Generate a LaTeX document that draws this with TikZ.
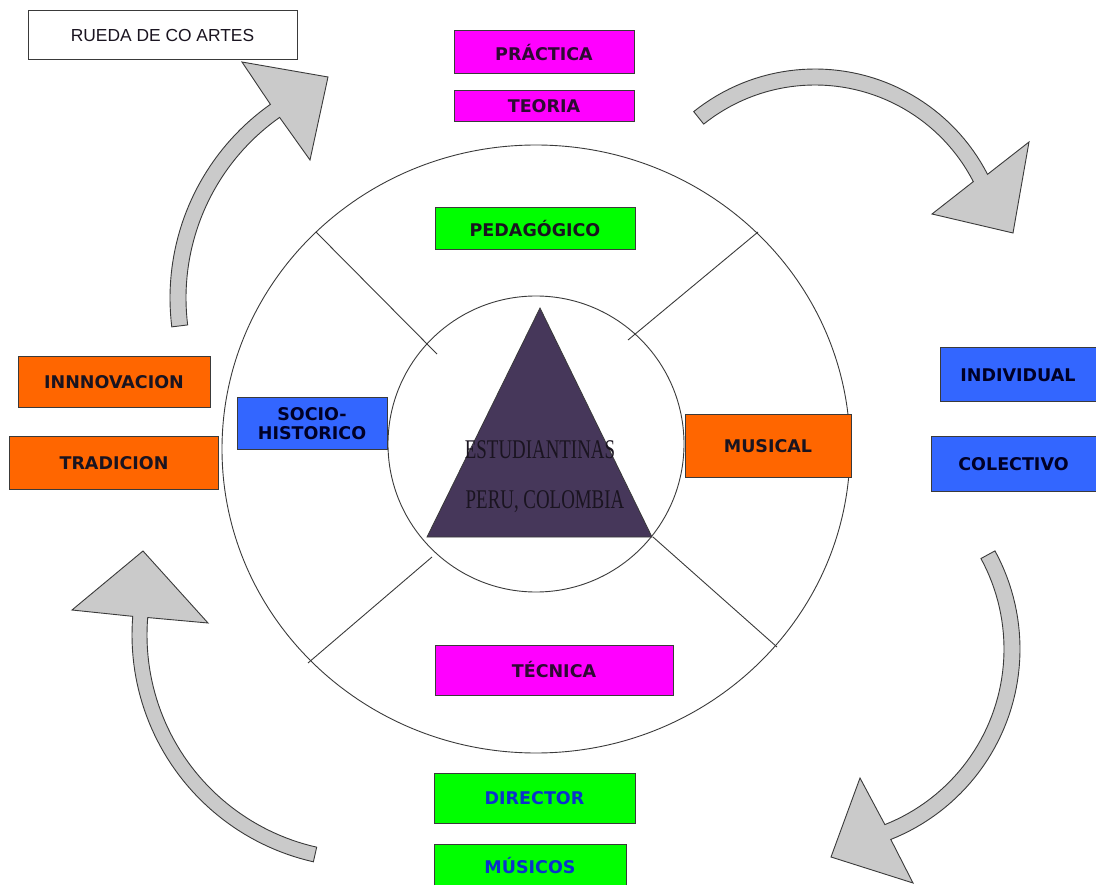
\documentclass[tikz,border=0pt]{standalone}
\usepackage{fontspec}
\usepackage{tikz}
\usetikzlibrary{positioning}
\newfontfamily\labelfont{DejaVu Sans}
\newfontfamily\titlefont{Liberation Sans}
\newfontfamily\centrefont[FakeStretch=0.7]{Liberation Serif}
\definecolor{rosa}{HTML}{FF00FF}
\definecolor{verde}{HTML}{00FF00}
\definecolor{azul}{HTML}{3366FF}
\definecolor{naranja}{HTML}{FF6600}
\definecolor{morado}{HTML}{46375A}
\definecolor{gris}{HTML}{CACACA}
\definecolor{trazo}{HTML}{3A3A3A}
\definecolor{letra}{HTML}{1A1420}
\definecolor{letrarosa}{HTML}{2E0A33}
\definecolor{letraazul}{HTML}{0A33CC}

\begin{document}
\begin{tikzpicture}[x=1pt,y=-1pt,
  box/.style={draw=trazo,line width=1pt,inner sep=0pt,align=center,text=letra,
    font=\labelfont\bfseries\fontsize{17.5}{19}\selectfont},
  magbox/.style={box,fill=rosa,text=letrarosa},
  greenbox/.style={box,fill=verde},
  bluebox/.style={box,fill=azul,text=black!85!blue},
  orangebox/.style={box,fill=naranja},
  ring/.style={draw=trazo,line width=0.9pt},
  bigarrow/.style={fill=gris,draw=trazo,line width=0.9pt,line join=miter}]
\useasboundingbox (0,0) rectangle (1096,885);

% wheel
\draw[ring] (536,449) ellipse [x radius=314,y radius=304];
\draw[ring] (536,444) circle [radius=148];
\draw[ring] (316,232) -- (437,354);
\draw[ring] (758,232) -- (628,340);
\draw[ring] (308,663) -- (432,557);
\draw[ring] (777,647) -- (653,537);

% centre
\filldraw[fill=morado,draw=trazo,line width=0.8pt] (540,308) -- (427,537) -- (652,537) -- cycle;
\node[anchor=base,font=\centrefont\fontsize{27}{27}\selectfont,text=letra] (estud) at (540,458) {ESTUDIANTINAS};
\node[anchor=base,font=\centrefont\fontsize{27}{27}\selectfont,text=letra] (paises) at (545,508) {PERU, COLOMBIA};

% labels
\node[box,fill=white,font=\titlefont\fontsize{17.4}{17}\selectfont,minimum width=269pt,minimum height=49pt] (rueda) at (162.5,35.5) {RUEDA DE CO ARTES};
\node[magbox,minimum width=180pt,minimum height=43pt] (practica) at (544,52.5) {PRÁCTICA};
\node[magbox,minimum width=180pt,minimum height=31pt,below=16pt of practica] (teoria) {TEORIA};
\node[greenbox,minimum width=200pt,minimum height=42pt] (pedagogico) at (535,229) {PEDAGÓGICO};
\node[bluebox,minimum width=150pt,minimum height=52pt] (socio) at (312,424) {SOCIO-\\HISTORICO};
\node[orangebox,minimum width=192pt,minimum height=51pt] (innovacion) at (114,382.5) {INNNOVACION};
\node[orangebox,minimum width=209pt,minimum height=52pt,below=28pt of innovacion] (tradicion) {TRADICION};
\node[orangebox,minimum width=166pt,minimum height=62pt] (musical) at (768,446) {MUSICAL};
\node[bluebox,minimum width=156pt,minimum height=54pt] (individual) at (1018,375) {INDIVIDUAL};
\node[bluebox,minimum width=165pt,minimum height=54pt,below left=34pt and 0pt of individual.south east] (colectivo) {COLECTIVO};
\node[magbox,minimum width=238pt,minimum height=50pt] (tecnica) at (554,670) {TÉCNICA};
\node[greenbox,text=letraazul,minimum width=201pt,minimum height=50pt] (director) at (534.5,798) {DIRECTOR};
\node[greenbox,text=letraazul,minimum width=192pt,minimum height=44pt,below right=20pt and 0pt of director.south west] (musicos) {MÚSICOS};

% turning arrows
\filldraw[bigarrow] plot[domain=173:234.8,samples=40] ({407+237*cos(\x)},{298+237*sin(\x)})
  -- (242,62) -- (328,77) -- (310,160)
  -- plot[domain=234.8:173,samples=40] ({407+221*cos(\x)},{298+221*sin(\x)}) -- cycle;
\filldraw[bigarrow] plot[domain=-128.7:-27.2,samples=50] ({815+194*cos(\x)},{263+194*sin(\x)})
  -- (1029,142) -- (1013,233) -- (932,214)
  -- plot[domain=-27.2:-128.7,samples=50] ({815+178*cos(\x)},{263+178*sin(\x)}) -- cycle;
\filldraw[bigarrow] plot[domain=-28.6:68.3,samples=50] ({815+205*cos(\x)},{649+205*sin(\x)})
  -- (913,883) -- (831,857) -- (860,778)
  -- plot[domain=68.3:-28.6,samples=50] ({815+189*cos(\x)},{649+189*sin(\x)}) -- cycle;
\filldraw[bigarrow] plot[domain=102.7:184.6,samples=50] ({364.5+232.5*cos(\x)},{635+232.5*sin(\x)})
  -- (72,610) -- (143,551) -- (208,623)
  -- plot[domain=184.6:102.7,samples=50] ({364.5+217.5*cos(\x)},{635+217.5*sin(\x)}) -- cycle;
\end{tikzpicture}
\end{document}
